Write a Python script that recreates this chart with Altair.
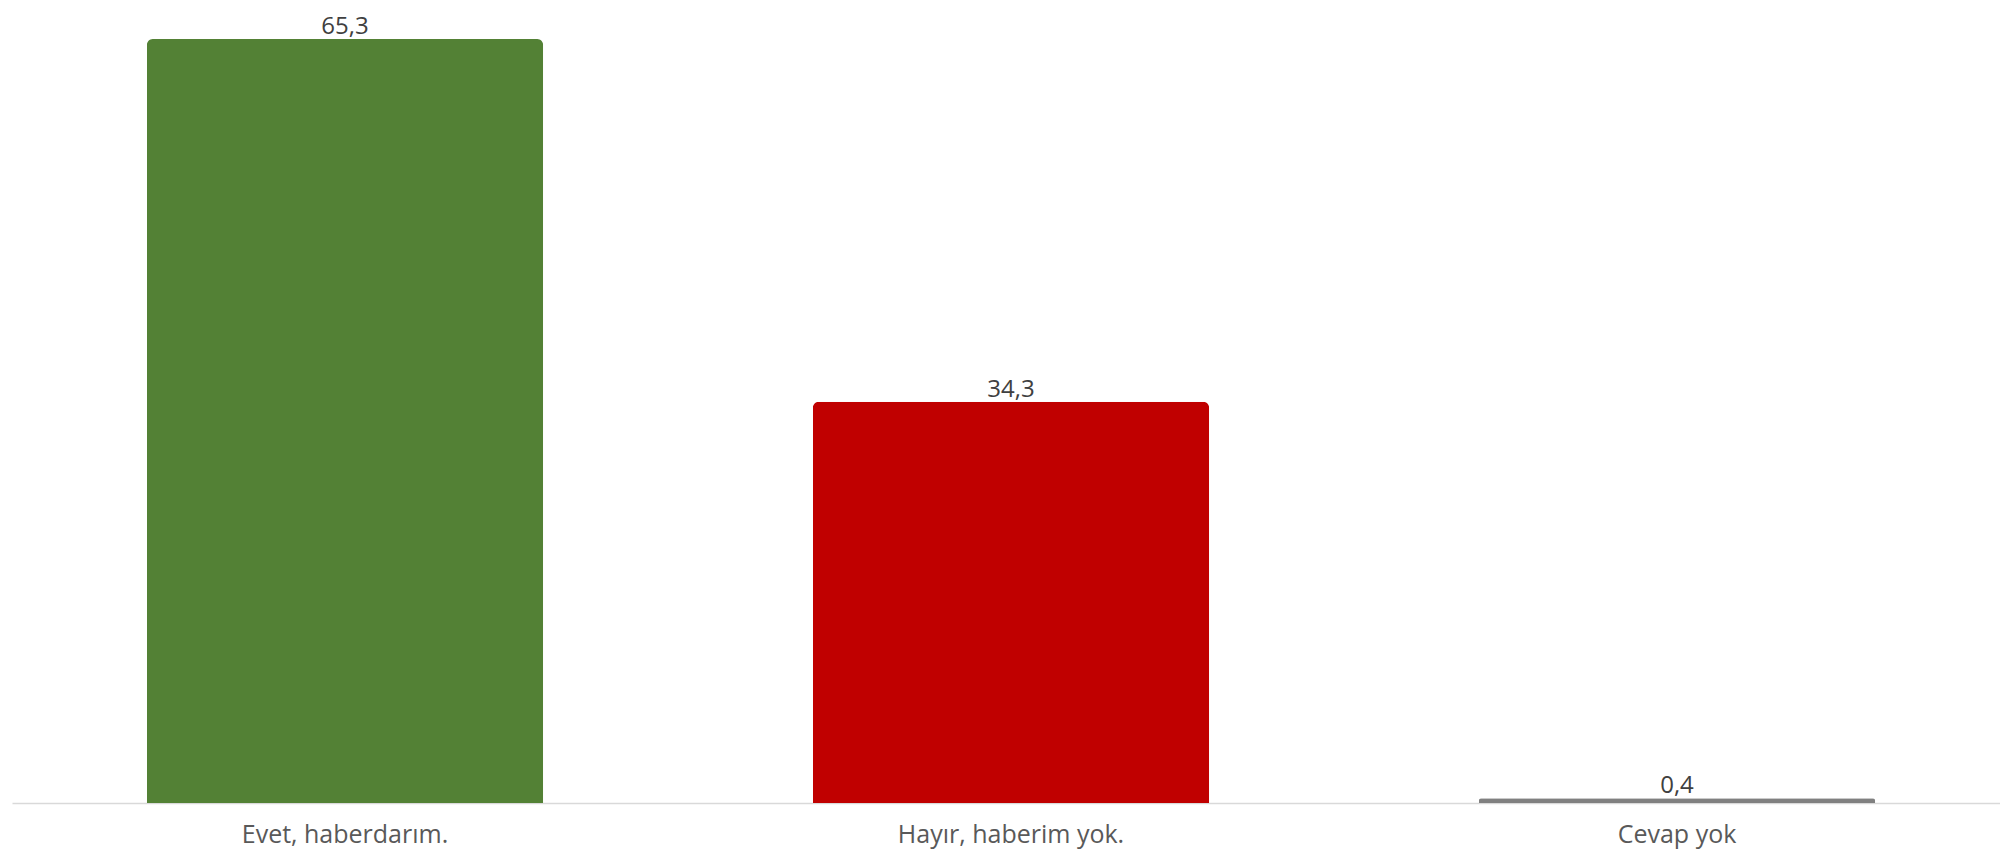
import altair as alt
import pandas as pd

categories = ["Evet, haberdarım.", "Hayır, haberim yok.", "Cevap yok"]
values = [65.3, 34.3, 0.4]
colors = ["#538135", "#C00000", "#808080"]

df = pd.DataFrame({"cat": categories, "value": values, "color": colors})

x = alt.X(
    "cat:N",
    sort=categories,
    title=None,
    scale=alt.Scale(paddingInner=0.405, paddingOuter=0.2025, range=[0, 1998]),
    axis=alt.Axis(
        labelAngle=0,
        labelFont="Open Sans",
        labelFontSize=25,
        labelColor="#595959",
        labelPadding=19,
        labelLimit=600,
        domainColor="#D9D9D9",
        domainWidth=1.5,
        ticks=False,
    ),
)
y = alt.Y(
    "value:Q",
    title=None,
    scale=alt.Scale(domain=[0, 66.24], nice=False),
    axis=None,
)

base = alt.Chart(df).encode(x=x, y=y)

bars = base.mark_bar(cornerRadiusTopLeft=6, cornerRadiusTopRight=6).encode(
    color=alt.Color("color:N", scale=None, legend=None)
)

labels = base.transform_calculate(
    lbl="replace(format(datum.value, '.1f'), '.', ',')"
).mark_text(
    font="Open Sans",
    fontSize=24,
    color="#404040",
    baseline="alphabetic",
    dy=-5,
).encode(text="lbl:N")

chart = (
    alt.layer(bars, labels)
    .properties(
        width=1984,
        height=775,
        background="white",
        autosize=alt.AutoSizeParams(type="none"),
        padding={"left": 4, "top": 20, "right": 4, "bottom": 49},
    )
    .configure_view(strokeWidth=0, stroke=None)
)

chart.save("out.html", embed_options={"renderer": "svg", "actions": False})
